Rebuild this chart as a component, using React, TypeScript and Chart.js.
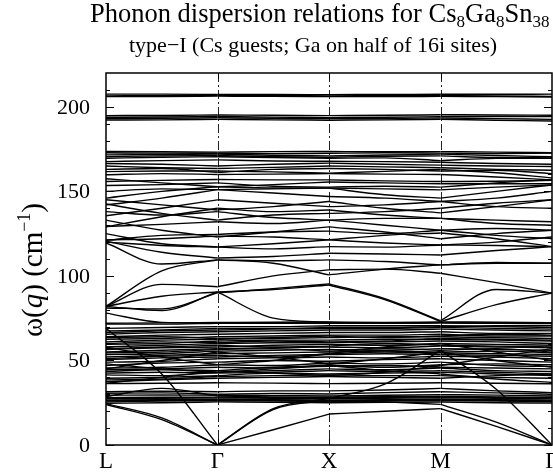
import React, { useEffect, useRef } from 'react';
import { Chart, registerables } from 'chart.js';

Chart.register(...registerables);

// high-symmetry path
const symLabels = ['L', 'Γ', 'X', 'M', 'Γ'];
const symPos = [0, 1, 2, 3, 4];
// sample positions along the path (L, mid, Γ, mid, X, mid, M, mid, Γ)
const kPath = [0, 0.5, 1, 1.5, 2, 2.5, 3, 3.5, 4];

const yMajor = [0, 50, 100, 150, 200];
const yMinor = [10, 20, 30, 40, 60, 70, 80, 90, 110, 120, 130, 140, 160, 170, 180, 190, 210];

// acoustic branches (cm^-1)
const acousticBands = [
  [24, 15, 0, 9, 18.3, 20, 21.5, 11, 0],
  [24.5, 16, 0, 21, 26.5, 25.5, 24, 13.5, 0],
  [69, 42, 0, 21.5, 27.5, 36, 56, 33, 0],
];

// low optical bundle 25-37
const lowBands = [
  [24.7, 25, 25.5, 25.2, 25, 25.2, 25.4, 25, 24.8],
  [25.5, 26, 26.2, 26, 25.8, 26, 26.3, 26, 25.7],
  [26.2, 26.4, 26.6, 26.5, 26.1, 26.4, 26.8, 26.4, 26.1],
  [26.6, 26.8, 27, 26.8, 26.5, 26.8, 27.2, 26.8, 26.5],
  [27.5, 27.6, 27.8, 27.6, 27.4, 27.6, 28, 27.6, 27.3],
  [28, 28.2, 28.3, 28, 27.9, 28.1, 28.4, 28.1, 27.8],
  [28.6, 33.5, 29, 28.4, 28.3, 28.5, 28.8, 28.4, 28.2],
  [29.4, 29.6, 29.4, 29.2, 29, 29.4, 29.8, 29.5, 29],
  [30.6, 30.8, 30, 30.5, 30.2, 31, 31.5, 30.8, 30],
  [31.5, 31.8, 31.5, 32, 32, 32.5, 33.5, 32, 31],
  [36.3, 36.5, 36.8, 36.6, 36.3, 36.5, 36.8, 36.5, 36.2],
];

// dense optical bundle 37-73
const denseBands = [
  [37.5, 38.5, 39.5, 40, 40.5, 40, 39.5, 41, 42],
  [38.5, 39, 40.5, 41, 41.5, 41, 41, 40, 39.5],
  [39.5, 40, 41, 42.5, 42, 42.5, 43, 42, 41],
  [41.5, 41, 43, 44, 45, 44.5, 45.5, 44, 43.5],
  [42.5, 43, 42.5, 43, 44, 43.5, 44, 43, 42],
  [43.5, 44.5, 44, 46, 46.5, 47, 46, 45.5, 45],
  [44.5, 45, 46, 45.5, 47.5, 46, 47.5, 48, 47.5],
  [45.5, 46, 47.5, 47, 48.5, 48, 49, 47, 46.5],
  [47, 48.5, 49, 50, 49.5, 50.5, 51, 50, 49],
  [49, 49.5, 51, 51.5, 52, 51.5, 52.5, 52, 51],
  [50.5, 51.5, 52, 53, 53.5, 54, 53.5, 53, 52.5],
  [51, 52.5, 53, 52, 54, 55, 54.5, 54, 53.5],
  [52, 53, 54, 54.5, 55, 55.5, 55, 55.5, 54.5],
  [53.5, 54, 55.5, 56, 56.5, 56, 57, 56.5, 56],
  [54.5, 55, 56.5, 57, 55.5, 57, 56, 57, 55],
  [55, 56, 57, 57.5, 58, 57.5, 58.5, 58, 57.5],
  [56.5, 57.5, 58, 59, 59.5, 59, 60, 59.5, 59],
  [57, 58, 59, 58, 58.5, 60, 59, 58.5, 58],
  [58, 59, 60, 60.5, 60.5, 61, 61.5, 61, 60],
  [59.5, 60, 61.5, 62, 62, 62.5, 62.5, 62, 61.5],
  [60, 61, 60.5, 61.5, 61, 61.5, 63, 62.5, 62],
  [61, 62, 62.5, 63, 63.5, 64, 64, 63.5, 63],
  [62.5, 63, 64, 64.5, 65, 65, 65.5, 64.5, 64.5],
  [63.5, 64, 63, 63.5, 64.5, 63.5, 64.5, 65.5, 65],
  [64, 65, 65.5, 66, 66.5, 66.5, 67, 66, 66],
  [65.5, 66.5, 67, 67.5, 68, 68, 68.5, 68, 67.5],
  [66.5, 67.5, 68, 68.5, 69, 69, 69.5, 69, 68.5],
  [67.5, 68, 69, 69, 69.5, 69.5, 70, 70.5, 70.5],
  [69, 69.5, 70, 70, 70.5, 70.5, 70.5, 70, 69.5],
  [71.5, 71.5, 72, 72, 72.2, 72, 72.3, 72, 71.8],
  [72, 72.2, 72.5, 72.6, 72.8, 72.5, 72.8, 72.6, 72.4],
];

// dispersive branches crossing the dense bundle
const crossBands = [
  [45, 50, 55, 52, 48, 51, 55, 50, 46],
  [58, 52, 47.5, 50, 54, 58, 60, 55, 50],
  [36.5, 40, 44, 42.5, 41, 43, 47, 52, 57],
  [48, 45, 43, 45, 47, 44, 42, 39, 37],
];

// optical branches 75-110
const opticBands = [
  [82, 79.5, 90.5, 92, 94.6, 86, 73, 83, 89.8],
  [81, 80.5, 90, 92.5, 95.3, 86.5, 73.5, 92, 89.8],
  [82, 95, 93.6, 100, 103.6, 104, 101.6, 96, 89.8],
  [82, 88, 90.5, 75, 72.5, 72, 72.3, 72, 72],
  [82, 103, 109.5, 107.5, 100.6, 104, 106.5, 108, 107.5],
  [78, 72.5, 72, 72, 72, 72, 72.5, 72, 72],
];

// branches 105-155
const midUpperBands = [
  [121.3, 122, 123.5, 123, 121.3, 124, 125.4, 122, 117.3],
  [120, 118, 117, 116, 117.3, 117, 118.3, 118, 117.3],
  [120.5, 114, 110.6, 111.5, 113.4, 113, 112.4, 115, 117.3],
  [119.5, 107, 109.5, 109, 109.5, 108.5, 106.5, 107.5, 107.5],
  [121, 124, 124.5, 126, 126.5, 125, 127, 124, 122],
  [125, 119, 117.2, 119, 121.3, 119.5, 118.3, 120, 123],
  [129, 135, 140, 138, 139, 136, 134, 133, 132],
  [129.2, 130.5, 132, 131, 133, 130, 127, 128, 127],
  [133, 127, 123, 126, 129, 126, 122, 125, 127],
  [135.6, 140, 145, 143, 141, 142, 144, 146, 150],
  [138, 136, 138, 134.5, 133, 134, 134, 131, 130],
  [145, 142, 139, 141, 144, 140, 137.3, 141, 145],
  [142, 146, 151, 149, 147, 146, 144, 141, 140],
  [146, 150, 152.7, 152, 151.9, 148, 146, 150, 153.8],
  [142.5, 137, 133, 136, 137, 138, 140, 143, 145],
];

// branches 150-175
const upperBands = [
  [173.6, 173.4, 173.2, 173.5, 173.6, 173.4, 173.5, 173.2, 172.8],
  [172.8, 172.6, 172.5, 172.3, 172.5, 172.8, 172.6, 172.3, 172.6],
  [171.6, 171.8, 172, 171.4, 171, 171.5, 172, 171.2, 170.5],
  [170.5, 171, 171.2, 170.5, 170.2, 170.8, 171, 170, 169.8],
  [169.6, 170.2, 170.5, 170, 169.6, 169.8, 168.2, 169.5, 169.6],
  [167.6, 168.2, 168.6, 168, 167.8, 167.6, 167.2, 166.5, 166],
  [166.5, 166, 165, 166, 166.7, 166, 165.5, 165, 164.7],
  [165, 164, 163.5, 164.2, 165, 164.5, 164, 163, 162.5],
  [163, 163.5, 161.2, 163, 163.5, 163, 162, 162.5, 160.5],
  [161.7, 162, 162, 161.5, 160.8, 161.8, 163, 161, 158],
  [159.8, 160.5, 160, 160.2, 160.5, 160.2, 160, 158.5, 156.8],
  [155.8, 156.5, 157, 156.8, 156.8, 156.2, 155.8, 156, 156.5],
  [157.5, 155, 152.7, 154, 155.5, 155, 154.5, 154.5, 154.5],
  [153.5, 154, 155, 153, 152.5, 153, 152.5, 155, 157],
  [150, 151.5, 151, 151.5, 151.9, 151.5, 150.9, 152.5, 153.8],
];

// highest branches 190-208
const topBands = [
  [207.5, 207.5, 207.3, 207.3, 207.2, 207.3, 207.4, 207.4, 207.5],
  [206.5, 206.6, 206.8, 206.6, 206.5, 206.6, 206.7, 206.4, 206.2],
  [206, 206.1, 206.3, 206.2, 206, 206, 206.2, 206, 205.8],
  [194.8, 194.9, 195.2, 195, 194.8, 195, 195.3, 195.2, 195],
  [193.8, 194, 194.3, 193.9, 193.6, 193.8, 194.2, 194.3, 194.2],
  [193, 193.2, 193.5, 193.2, 193, 193.1, 193.4, 193, 192.6],
  [192.2, 192.3, 192.6, 192.3, 192.1, 192.3, 192.6, 192.1, 191.6],
];

const SERIF = '"Liberation Serif", "Times New Roman", serif';

type Run = { t: string; size: number; dy: number; style?: string };

function runsWidth(ctx: CanvasRenderingContext2D, runs: Run[]) {
  let w = 0;
  for (const r of runs) {
    ctx.font = `${r.style || ''} ${r.size}px ${SERIF}`;
    w += ctx.measureText(r.t).width;
  }
  return w;
}

function drawRuns(ctx: CanvasRenderingContext2D, runs: Run[], x: number, y: number) {
  for (const r of runs) {
    ctx.font = `${r.style || ''} ${r.size}px ${SERIF}`;
    ctx.fillText(r.t, x, y + r.dy);
    x += ctx.measureText(r.t).width;
  }
}

const decorPlugin = {
  id: 'decor',
  beforeDatasetsDraw(chart: any) {
    const { ctx, chartArea, scales } = chart;
    const { top, bottom } = chartArea;
    ctx.save();
    ctx.strokeStyle = '#222';
    ctx.lineWidth = 1;
    ctx.setLineDash([9, 3, 2, 3]);
    [1, 2, 3].forEach((v) => {
      const px = Math.round(scales.x.getPixelForValue(v)) + 0.5;
      ctx.beginPath();
      ctx.moveTo(px, top);
      ctx.lineTo(px, bottom);
      ctx.stroke();
    });
    ctx.restore();
  },
  afterDatasetsDraw(chart: any) {
    const { ctx, chartArea, scales } = chart;
    const { left, right, top, bottom } = chartArea;
    ctx.save();
    ctx.strokeStyle = '#000';
    ctx.fillStyle = '#000';
    ctx.setLineDash([]);
    ctx.lineWidth = 1.5;
    ctx.strokeRect(left, top, right - left, bottom - top);

    // y ticks
    ctx.lineWidth = 1;
    const tick = (v: number, len: number) => {
      const py = Math.round(scales.y.getPixelForValue(v)) + 0.5;
      ctx.beginPath();
      ctx.moveTo(left, py);
      ctx.lineTo(left + len, py);
      ctx.moveTo(right, py);
      ctx.lineTo(right - len, py);
      ctx.stroke();
    };
    yMajor.forEach((v) => tick(v, 8));
    yMinor.forEach((v) => tick(v, 4));
    // x ticks
    symPos.slice(1, 4).forEach((v) => {
      const px = Math.round(scales.x.getPixelForValue(v)) + 0.5;
      ctx.beginPath();
      ctx.moveTo(px, top);
      ctx.lineTo(px, top + 6);
      ctx.moveTo(px, bottom);
      ctx.lineTo(px, bottom - 6);
      ctx.stroke();
    });

    // y tick labels
    ctx.font = `22px ${SERIF}`;
    ctx.textAlign = 'right';
    ctx.textBaseline = 'middle';
    yMajor.forEach((v) => {
      ctx.fillText(String(v), left - 16, scales.y.getPixelForValue(v) + 1);
    });
    // x tick labels
    ctx.font = `23px ${SERIF}`;
    ctx.textAlign = 'center';
    ctx.textBaseline = 'alphabetic';
    symPos.forEach((v, i) => {
      ctx.fillText(symLabels[i], scales.x.getPixelForValue(v), bottom + 23);
    });

    // titles
    ctx.textAlign = 'left';
    const titleRuns: Run[] = [
      { t: 'Phonon dispersion relations for Cs', size: 26.5, dy: 0 },
      { t: '8', size: 17, dy: 5 },
      { t: 'Ga', size: 26.5, dy: 0 },
      { t: '8', size: 17, dy: 5 },
      { t: 'Sn', size: 26.5, dy: 0 },
      { t: '38', size: 17, dy: 5 },
    ];
    drawRuns(ctx, titleRuns, 90, 22);
    const subRuns: Run[] = [{ t: 'type\u2212I (Cs guests; Ga on half of 16i sites)', size: 22, dy: 0 }];
    drawRuns(ctx, subRuns, 129, 52);

    // y axis title
    const yRuns: Run[] = [
      { t: 'ω(', size: 29, dy: 0 },
      { t: 'q', size: 29, dy: 0, style: 'italic' },
      { t: ') (cm', size: 29, dy: 0 },
      { t: '\u22121', size: 18, dy: -12 },
      { t: ')', size: 29, dy: 0 },
    ];
    const w = runsWidth(ctx, yRuns);
    ctx.translate(42, 270);
    ctx.rotate(-Math.PI / 2);
    drawRuns(ctx, yRuns, -w / 2, 0);
    ctx.restore();
  },
};

export default function App() {
  const canvasRef = useRef<HTMLCanvasElement | null>(null);

  useEffect(() => {
    const canvas = canvasRef.current;
    if (!canvas) return;
    const allBands = [
      ...acousticBands,
      ...lowBands,
      ...denseBands,
      ...crossBands,
      ...opticBands,
      ...midUpperBands,
      ...upperBands,
      ...topBands,
    ];
    const datasets: any[] = [];
    allBands.forEach((band) => {
      for (let s = 0; s < 4; s++) {
        const pts = [0, 1, 2].map((j) => ({ x: kPath[2 * s + j], y: band[2 * s + j] }));
        datasets.push({
          data: pts,
          borderColor: '#000',
          borderWidth: 1.4,
          pointRadius: 0,
          fill: false,
          cubicInterpolationMode: 'monotone',
        });
      }
    });
    const chart = new Chart(canvas, {
      type: 'line',
      data: { datasets },
      options: {
        responsive: false,
        animation: false,
        devicePixelRatio: 1,
        layout: { padding: { left: 106, right: 1, top: 73, bottom: 29 } },
        plugins: { legend: { display: false }, tooltip: { enabled: false }, title: { display: false } },
        scales: {
          x: { type: 'linear', min: 0, max: 4, display: false },
          y: { type: 'linear', min: 0, max: 220, display: false },
        },
        events: [],
      },
      plugins: [decorPlugin],
    });
    return () => chart.destroy();
  }, []);

  return (
    <div style={{ position: 'fixed', left: 0, top: 0, width: 553, height: 474, background: '#fff' }}>
      <canvas ref={canvasRef} width={553} height={474} style={{ width: 553, height: 474 }} />
    </div>
  );
}
